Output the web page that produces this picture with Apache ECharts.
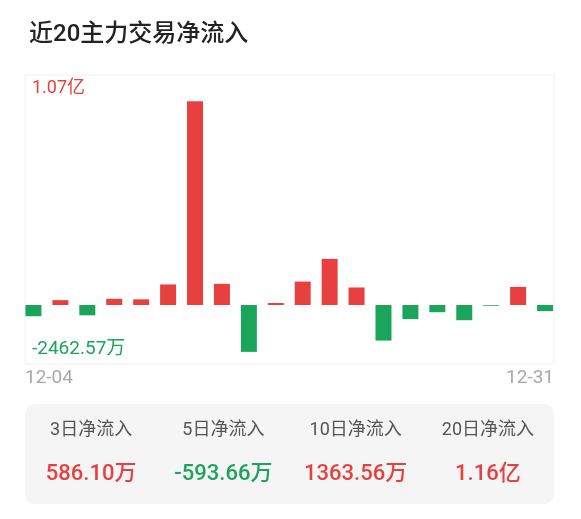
<!DOCTYPE html>
<html>
<head>
<meta charset="utf-8">
<script src="https://cdn.jsdelivr.net/npm/echarts@6/dist/echarts.min.js"></script>
<style>
html,body{margin:0;padding:0;background:#fff;}
#chart{width:581px;height:519px;}
</style>
</head>
<body>
<div id="chart"></div>
<script>
// ---- data ----
const titleText = '近20主力交易净流入';
const dates = ['12-04','12-05','12-06','12-09','12-10','12-11','12-12','12-13','12-16','12-17',
               '12-18','12-19','12-20','12-23','12-24','12-25','12-26','12-27','12-30','12-31'];
// net inflow, unit: 万
const netFlow = [-590, 255, -543, 325, 298, 1080, 10700, 1110, -2462.57, 105,
                 1230, 2420, 920, -1870, -743, -380, -800, -40, 950, -324];
const maxLabel = '1.07亿';
const minLabel = '-2462.57万';
const summaryNames = ['3日净流入', '5日净流入', '10日净流入', '20日净流入'];
const summaryValues = ['586.10万', '-593.66万', '1363.56万', '1.16亿'];
const summarySigns = [1, -1, 1, 1];

const RED = '#e8403f';
const GREEN = '#1aa55b';
const FONT = "Roboto, 'Noto Sans CJK SC', sans-serif";

const chart = echarts.init(document.getElementById('chart'), null, {renderer: 'canvas'});

const boxLeft = 25, boxRight = 554, boxTop = 404, boxBottom = 504;
const colW = (boxRight - boxLeft) / summaryNames.length;
const graphics = [
  {type: 'rect', shape: {x: boxLeft, y: boxTop, width: boxRight - boxLeft, height: boxBottom - boxTop, r: 10},
   style: {fill: '#f5f5f5'}, z: 0},
  {type: 'text', x: 32, y: 88, style: {text: maxLabel, fill: RED, font: '18px ' + FONT, textVerticalAlign: 'middle'}, z: 10},
  {type: 'text', x: 32, y: 349, style: {text: minLabel, fill: GREEN, font: '19px ' + FONT, textVerticalAlign: 'middle'}, z: 10}
];
summaryNames.forEach((n, i) => {
  const cx = boxLeft + colW * (i + 0.5);
  graphics.push({type: 'text', x: cx, y: 430, style: {text: n, fill: '#555', font: '18px ' + FONT, textAlign: 'center', textVerticalAlign: 'middle'}, z: 10});
  graphics.push({type: 'text', x: cx, y: 474, style: {text: summaryValues[i], fill: summarySigns[i] > 0 ? RED : GREEN, font: '500 22px ' + FONT, textAlign: 'center', textVerticalAlign: 'middle'}, z: 10});
});

const option = {
  backgroundColor: '#fff',
  animation: false,
  title: {
    text: titleText, left: 24, top: 18,
    textStyle: {fontSize: 24, fontWeight: 500, color: '#222', fontFamily: FONT}
  },
  grid: [
    {left: 20, right: 22.5, top: 75, height: 289, containLabel: false},
    {left: 25, right: 27, top: 75, height: 289, show: true, borderColor: '#f0f0f0', borderWidth: 1, backgroundColor: 'transparent'}
  ],
  xAxis: [
    {type: 'category', gridIndex: 0, data: dates, show: false},
    {type: 'category', gridIndex: 1, data: dates, boundaryGap: false,
     axisLine: {show: false}, axisTick: {show: false}, splitLine: {show: false},
     axisLabel: {
       interval: (idx) => idx === 0 || idx === dates.length - 1,
       showMinLabel: true, showMaxLabel: true,
       alignMinLabel: 'left', alignMaxLabel: 'right',
       color: '#a8a8a8', fontSize: 19, fontFamily: FONT, margin: 5
     }}
  ],
  yAxis: [
    {type: 'value', gridIndex: 0, min: -3100, max: 12080, show: false, splitLine: {show: false}},
    {type: 'value', gridIndex: 1, show: false, splitLine: {show: false}}
  ],
  series: [{
    type: 'bar', xAxisIndex: 0, yAxisIndex: 0, barWidth: 16,
    data: netFlow.map(v => ({value: v, itemStyle: {color: v >= 0 ? RED : GREEN}}))
  }],
  graphic: graphics
};
chart.setOption(option);
</script>
</body>
</html>
